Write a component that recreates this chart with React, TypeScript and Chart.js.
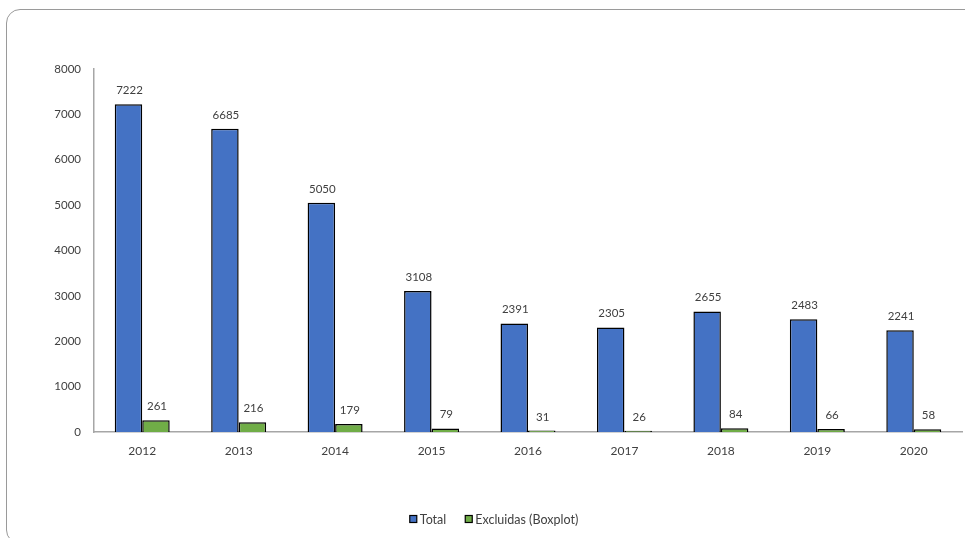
import React, { useEffect, useRef } from "react";
import { Chart, registerables } from "chart.js";

Chart.register(...registerables);

const categories = ["2012", "2013", "2014", "2015", "2016", "2017", "2018", "2019", "2020"];
const totalValues = [7222, 6685, 5050, 3108, 2391, 2305, 2655, 2483, 2241];
const excluidasValues = [261, 216, 179, 79, 31, 26, 84, 66, 58];
const seriesNames = ["Total", "Excluidas (Boxplot)"];
const seriesColors = ["#4472C4", "#70AD47"];

const FONT = "Lato, 'Open Sans', sans-serif";
const TEXT = "#404040";

const dataLabelPlugin = {
  id: "dataLabels",
  afterDatasetsDraw(chart: any) {
    const ctx = chart.ctx;
    ctx.save();
    ctx.font = `11.5px ${FONT}`;
    ctx.fillStyle = TEXT;
    ctx.textAlign = "center";
    ctx.textBaseline = "bottom";
    chart.data.datasets.forEach((ds: any, i: number) => {
      const meta = chart.getDatasetMeta(i);
      meta.data.forEach((bar: any, j: number) => {
        ctx.fillText(String(ds.data[j]), bar.x + 1, bar.y - 8);
      });
    });
    ctx.restore();
  },
};

const legendPlugin = {
  id: "customLegend",
  afterDraw(chart: any) {
    const ctx = chart.ctx;
    ctx.save();
    ctx.font = `12.5px ${FONT}`;
    ctx.textBaseline = "middle";
    ctx.textAlign = "left";
    const box = 7;
    const gapBoxText = 3;
    const gapItems = 19;
    const widths = seriesNames.map((n) => box + gapBoxText + ctx.measureText(n).width);
    const total = widths.reduce((a, b) => a + b, 0) + gapItems * (seriesNames.length - 1);
    let x = 494 - total / 2;
    const y = 519;
    seriesNames.forEach((n, i) => {
      ctx.fillStyle = seriesColors[i];
      ctx.fillRect(x, y - box / 2, box, box);
      ctx.strokeStyle = "#000";
      ctx.lineWidth = 1.2;
      ctx.strokeRect(x, y - box / 2, box, box);
      ctx.fillStyle = TEXT;
      ctx.fillText(n, x + box + gapBoxText, y + 1);
      x += widths[i] + gapItems;
    });
    ctx.restore();
  },
};

export default function App() {
  const ref = useRef<HTMLCanvasElement | null>(null);
  useEffect(() => {
    if (!ref.current) return;
    const chart = new Chart(ref.current, {
      type: "bar",
      data: {
        labels: categories,
        datasets: [
          {
            label: seriesNames[0],
            data: totalValues,
            backgroundColor: seriesColors[0],
            borderColor: "#000",
            borderWidth: 1.5,
            categoryPercentage: 0.57,
            barPercentage: 1.0,
          },
          {
            label: seriesNames[1],
            data: excluidasValues,
            backgroundColor: seriesColors[1],
            borderColor: "#000",
            borderWidth: 1.5,
            categoryPercentage: 0.57,
            barPercentage: 1.0,
          },
        ],
      },
      options: {
        animation: false,
        responsive: false,
        maintainAspectRatio: false,
        layout: { padding: { top: 69, right: 3, bottom: 0, left: 0 } },
        plugins: {
          legend: { display: false },
          tooltip: { enabled: false },
        },
        scales: {
          x: {
            grid: { display: false, drawTicks: false },
            border: { display: true, color: "#a6a6a6", width: 1.5 },
            ticks: {
              color: TEXT,
              font: { family: FONT, size: 12 },
              padding: 12,
              maxRotation: 0,
            },
            afterFit(scale: any) {
              scale.height = 106;
            },
          },
          y: {
            min: 0,
            max: 8000,
            grid: { display: false, drawTicks: false },
            border: { display: true, color: "#a6a6a6", width: 1.5 },
            ticks: {
              stepSize: 1000,
              color: TEXT,
              font: { family: FONT, size: 11.5 },
              padding: 13,
              callback: (v: any) => String(v),
            },
            afterFit(scale: any) {
              scale.width = 94;
            },
          },
        },
      },
      plugins: [dataLabelPlugin, legendPlugin],
    });
    return () => chart.destroy();
  }, []);

  return (
    <div style={{ position: "fixed", left: 0, top: 0, width: 965, height: 538, background: "#fff", overflow: "hidden" }}>
      <div
        style={{
          position: "absolute",
          left: 6,
          top: 9,
          width: 1000,
          height: 535,
          border: "1.5px solid #9a9a9a",
          borderRadius: 14,
          boxSizing: "border-box",
        }}
      />
      <canvas ref={ref} width={965} height={538} style={{ position: "absolute", left: 0, top: 0 }} />
    </div>
  );
}
